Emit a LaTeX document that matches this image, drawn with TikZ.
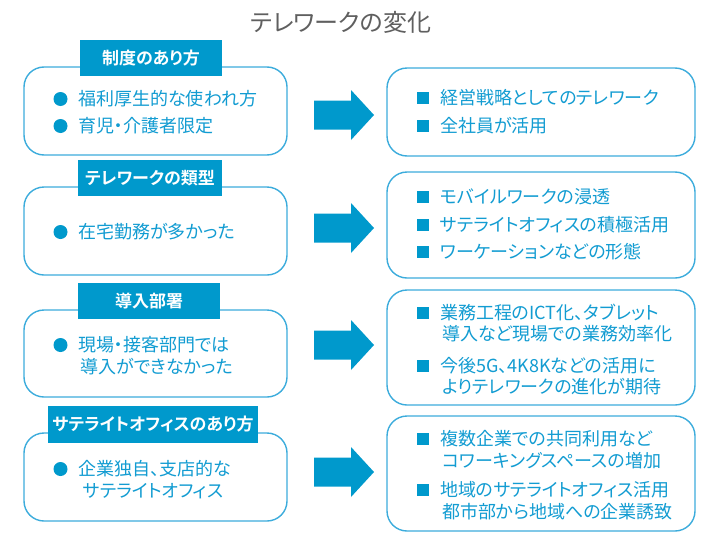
\documentclass[tikz,border=0pt]{standalone}
\usepackage{fontspec}
\newfontfamily\jp{Noto Sans CJK JP}[RawFeature=+palt,BoldFont={* Bold}]
\definecolor{tabblue}{RGB}{0,153,204}
\definecolor{lineblue}{RGB}{60,172,220}
\definecolor{txtblue}{RGB}{18,156,210}
\definecolor{titlegray}{RGB}{95,95,95}
\tikzset{
  boxL/.style={draw=lineblue, line width=1.4pt, rounded corners=20pt, fill=white, inner sep=0pt},
  tabbox/.style={fill=tabblue, text=white, inner sep=0pt, font=\jp\bfseries\fontsize{17}{17}\selectfont},
  txt/.style={anchor=base west, inner sep=0pt, text=txtblue, font=\jp\fontsize{18}{18}\selectfont},
  dot/.style={circle, fill=tabblue, inner sep=0pt, minimum size=14pt},
  sq/.style={rectangle, fill=tabblue, inner sep=0pt, minimum size=12pt},
  bigarrow/.style={fill=tabblue}
}
\newcommand\bigarr[2]{%
  \fill[bigarrow] (314,#1-14.5) -- (351,#1-14.5) -- (351,#1-25) -- (374,#1) -- (351,#1+25) -- (351,#1+14.5) -- (314,#1+14.5) -- cycle;
  \coordinate (#2) at (344,#1);}
\begin{document}
\begin{tikzpicture}[x=1pt,y=-1pt]
\useasboundingbox (0,0) rectangle (711,538);
% title
\node[inner sep=0pt, text=titlegray, font=\jp\fontsize{24}{24}\selectfont] (title) at (341,22) {テレワークの変化};

% ---------- row 1 ----------
\node[boxL, minimum width=263pt, minimum height=88pt] (L1) at (155.5,111) {};
\node[tabbox, minimum width=142pt, minimum height=36pt] (T1) at (151,58) {制度のあり方};
\node[dot] (L1d1) at (60.5,99) {};
\node[txt] (L1t1) at (78,105.5) {福利厚生的な使われ方};
\node[dot] (L1d2) at (60.5,126) {};
\node[txt] (L1t2) at (78,132.5) {育児・介護者限定};
\bigarr{115}{A1}
\node[boxL, minimum width=308pt, minimum height=88pt] (R1) at (541,112) {};
\node[sq] (R1s1) at (423,98) {};
\node[txt] (R1t1) at (440,104.5) {経営戦略としてのテレワーク};
\node[sq] (R1s2) at (423,126) {};
\node[txt] (R1t2) at (440,132.5) {全社員が活用};

% ---------- row 2 ----------
\node[boxL, minimum width=263pt, minimum height=88pt] (L2) at (155.5,231) {};
\node[tabbox, minimum width=144pt, minimum height=36pt] (T2) at (150,178) {テレワークの類型};
\node[dot] (L2d1) at (60.5,232) {};
\node[txt] (L2t1) at (78,238.5) {在宅勤務が多かった};
\bigarr{228}{A2}
\node[boxL, minimum width=308pt, minimum height=106pt] (R2) at (541,225) {};
\node[sq] (R2s1) at (423,197) {};
\node[txt] (R2t1) at (440,203.5) {モバイルワークの浸透};
\node[sq] (R2s2) at (423,225) {};
\node[txt] (R2t2) at (440,231.5) {サテライトオフィスの積極活用};
\node[sq] (R2s3) at (423,252) {};
\node[txt] (R2t3) at (440,258.5) {ワーケーションなどの形態};

% ---------- row 3 ----------
\node[boxL, minimum width=263pt, minimum height=87pt] (L3) at (155.5,353.5) {};
\node[tabbox, minimum width=142pt, minimum height=36pt] (T3) at (149,301) {導入部署};
\node[dot] (L3d1) at (60.5,345) {};
\node[txt] (L3t1) at (78,351.5) {現場・接客部門では};
\node[txt] (L3t2) at (80,373.5) {導入ができなかった};
\bigarr{345}{A3}
\node[boxL, minimum width=308pt, minimum height=115pt] (R3) at (541,347.5) {};
\node[sq] (R3s1) at (423,313) {};
\node[txt] (R3t1) at (440,319.5) {業務工程のICT化、タブレット};
\node[txt] (R3t2) at (442,340.5) {導入など現場での業務効率化};
\node[sq] (R3s2) at (423,366) {};
\node[txt] (R3t3) at (440,372.5) {今後5G、4K8Kなどの活用に};
\node[txt] (R3t4) at (442,393.5) {よりテレワークの進化が期待};

% ---------- row 4 ----------
\node[boxL, minimum width=263pt, minimum height=88pt] (L4) at (155.5,477) {};
\node[tabbox, minimum width=210pt, minimum height=37pt] (T4) at (153,424.5) {サテライトオフィスのあり方};
\node[dot] (L4d1) at (60.5,469) {};
\node[txt] (L4t1) at (78,475.5) {企業独自、支店的な};
\node[txt] (L4t2) at (83,497.5) {サテライトオフィス};
\bigarr{472}{A4}
\node[boxL, minimum width=308pt, minimum height=115pt] (R4) at (541,473.5) {};
\node[sq] (R4s1) at (423,439) {};
\node[txt] (R4t1) at (440,445.5) {複数企業での共同利用など};
\node[txt] (R4t2) at (442,467.5) {コワーキングスペースの増加};
\node[sq] (R4s2) at (423,490) {};
\node[txt] (R4t3) at (440,496.5) {地域のサテライトオフィス活用};
\node[txt] (R4t4) at (442,518.5) {都市部から地域への企業誘致};
\end{tikzpicture}
\end{document}
